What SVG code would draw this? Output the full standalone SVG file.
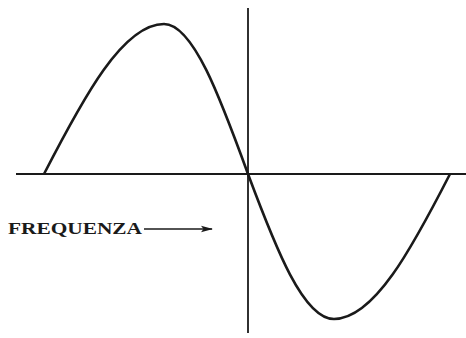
<svg xmlns="http://www.w3.org/2000/svg" width="466" height="338" viewBox="0 0 466 338">
<style>
.axis{stroke:#1a1a1a;stroke-width:1.8;fill:none}
.wave{stroke:#1a1a1a;stroke-width:2.6;fill:none;stroke-linejoin:round}
.lbl{font-family:"Liberation Serif","DejaVu Serif",serif;font-weight:bold;font-size:17px;fill:#1a1a1a}
</style>
<defs>
<marker id="ah" viewBox="0 0 12 8" refX="11" refY="4" markerWidth="12" markerHeight="8" markerUnits="userSpaceOnUse" orient="auto">
<path d="M0,0.8 L12,4 L0,7.2 L2.5,4 Z" fill="#1a1a1a"/>
</marker>
</defs>
<rect width="466" height="338" fill="#ffffff"/>
<g id="axes">
<line class="axis" x1="16" y1="174" x2="466" y2="174"/>
<line class="axis" x1="248" y1="8" x2="248" y2="333"/>
</g>
<g id="wave">
<path class="wave" d="M44,174 C83.5,97.2 123,24 164,24 C193,24 220,97.2 248,174 C275.7,248.2 303.4,319 334,319 C374,319 412,248.2 450,174"/>
</g>
<g id="label">
<text class="lbl" x="8" y="234" textLength="134" lengthAdjust="spacingAndGlyphs">FREQUENZA</text>
</g>
<g id="connectors">
<line x1="144" y1="229" x2="212" y2="229" stroke="#1a1a1a" stroke-width="1.6" marker-end="url(#ah)"/>
</g>
</svg>
